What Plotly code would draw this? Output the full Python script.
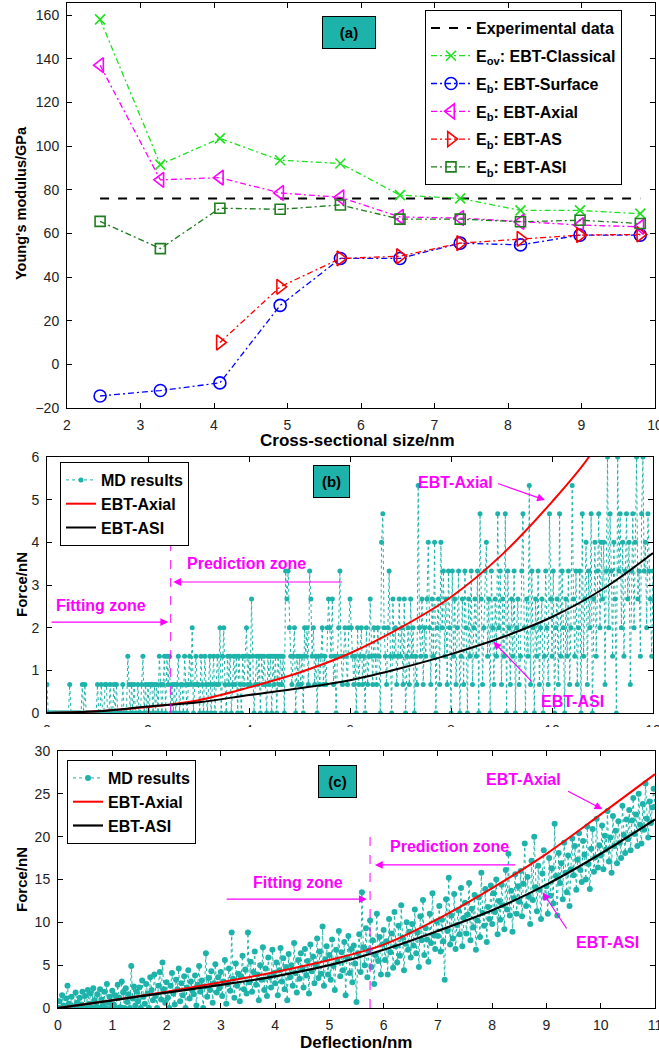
import numpy as np
import plotly.graph_objects as go

# ---------------- Panel (a): Young's modulus vs cross-sectional size ----------------
size_nm = [2.45, 3.27, 4.08, 4.9, 5.72, 6.53, 7.35, 8.17, 8.98, 9.8]
exp_modulus = 76
E_classical = [158, 91.5, 103.5, 93.5, 92, 77.5, 76, 70.5, 70.5, 69]
E_surface = [-14.5, -12, -8.5, 27, 48.5, 48.5, 55.5, 54.7, 59.2, 59.2]
E_axial = [137, 84.5, 85.5, 78.5, 76.5, 67.5, 67, 65.3, 63.8, 63]
E_as = [None, None, 10, 35.5, 48.5, 49.5, 55.5, 57.5, 59.2, 59.5]
E_asi = [65.5, 53, 71.5, 71, 73, 66.5, 66.5, 65.3, 66, 64.5]

# ---------------- Panel (b): force vs deflection (small beam) ----------------
curve_b_x = [0, 1, 2, 3, 4, 5, 6, 7, 8, 9, 10, 10.73, 11]
axial_b = [0, 0.04, 0.14, 0.3, 0.6, 0.95, 1.4, 2.0, 2.72, 3.7, 4.95, 6.0, 6.6]
asi_b_x = [0, 1, 2, 3, 4, 5, 6, 7, 8, 9, 10, 11, 12]
asi_b = [0, 0.04, 0.15, 0.25, 0.42, 0.58, 0.77, 1.05, 1.38, 1.77, 2.25, 2.9, 3.75]
# MD force levels (nN) are quantised; samples every 0.025 nm from 0 to 12 nm
md_b_force_levels = [0, 0.67, 1.33, 2.0, 2.67, 3.33, 4.0, 4.67, 5.33, 6.0]
MD_B_DX = 0.025
md_b_level = [
    1,0,0,0,0,0,0,0,0,0,0,0,0,0,0,0,0,0,1,0,
    0,0,0,0,0,0,0,0,1,0,1,0,0,0,0,0,0,0,0,0,
    1,0,0,1,0,0,1,1,0,0,1,0,0,1,0,1,0,0,0,0,
    1,0,0,0,2,1,0,1,0,1,0,0,1,0,0,1,2,0,1,0,
    1,0,1,1,0,1,0,1,0,2,1,0,1,2,0,2,1,2,0,1,
    0,1,0,1,2,0,1,1,0,2,1,0,1,2,1,3,0,1,2,1,
    1,0,2,1,0,2,1,0,1,2,0,1,2,0,1,2,1,3,0,2,
    3,1,0,2,1,2,0,1,2,1,2,0,2,1,0,2,1,2,3,1,
    2,1,4,2,0,1,2,1,2,0,2,1,2,1,0,2,1,2,0,2,
    1,2,0,2,1,2,1,2,0,5,4,5,3,2,1,2,3,0,2,1,
    2,1,2,0,3,2,3,1,5,4,2,3,1,2,0,2,1,2,3,1,
    2,1,3,4,3,2,4,1,2,0,2,3,5,2,1,2,3,2,1,3,
    4,3,2,1,2,0,3,1,2,3,1,2,0,3,1,2,4,2,1,3,
    2,1,3,2,0,6,7,3,2,1,3,5,2,0,4,2,3,1,2,4,
    2,3,1,4,0,2,3,1,4,2,3,0,2,1,8,3,2,4,1,3,
    2,4,6,3,1,4,2,6,0,3,4,1,6,3,5,2,4,1,5,3,
    0,5,2,4,1,3,5,0,2,4,1,5,3,0,4,2,5,1,3,4,
    2,5,0,7,4,1,3,5,6,2,4,0,5,3,1,4,2,7,3,5,
    1,4,2,7,0,5,3,1,4,2,5,0,3,4,1,2,5,7,3,0,
    4,2,8,1,5,3,0,4,2,5,1,3,4,0,2,5,3,1,7,4,
    2,5,0,3,4,1,7,2,5,3,0,4,2,5,1,3,8,4,2,5,
    1,3,5,0,7,2,4,6,1,5,3,7,0,4,6,2,5,7,3,6,
    4,6,1,5,9,3,7,5,2,6,4,0,9,5,7,3,6,2,5,7,
    4,6,1,5,7,3,6,9,4,5,2,7,9,5,6,3,7,5,4,2,
    5,
]

# ---------------- Panel (c): force vs deflection (large beam) ----------------
curve_c_x = [0, 1, 2, 3, 4, 5, 6, 7, 8, 9, 10, 11]
axial_c = [0, 0.9, 1.9, 3.0, 4.2, 5.6, 7.4, 10.4, 14.0, 18.0, 22.6, 27.3]
asi_c = [0, 0.9, 1.8, 2.7, 3.7, 5.0, 6.8, 9.0, 11.4, 14.4, 18.0, 22.0]
MD_C_DX = 0.025
md_c_force = [
    0, 0.8, 0, 1.5, 0.3, 0, 1.1, 2.6, 0.5, 0, 1.3, 0.2, 0, 1.8, 0.6, 0, 1.2, 0.4, 1.9, 0,
    1.4, 0, 2.1, 0.5, 1.7, 0, 2.3, 0.9, 0.2, 1.6, 0, 2.2, 1.0, 0.3, 1.9, 0, 2.8, 0.6, 1.3, 0,
    2.0, 0.4, 1.5, 0, 2.7, 1.2, 0.1, 3.1, 1.8, 0, 2.3, 0.7, 1.6, 0, 4.9, 1.1, 2.5, 0.3, 1.9, 0.8,
    2.4, 0, 3.2, 1.3, 0.5, 2.8, 1.7, 0, 3.6, 2.1, 0.9, 3.9, 1.4, 0, 2.6, 4.2, 1.0, 5.3, 2.2, 0.6,
    3.0, 1.2, 0, 2.6, 4.1, 1.7, 0.4, 3.3, 2.2, 4.6, 0.8, 2.9, 1.5, 3.7, 0, 2.4, 4.4, 1.1, 3.1, 2.0,
    1.6, 3.8, 0.3, 2.7, 4.9, 1.9, 3.2, 0, 2.5, 6.4, 1.3, 3.5, 2.1, 4.3, 0.6, 2.9, 5.1, 1.8, 3.6, 2.3,
    4.2, 1.4, 3.1, 5.6, 0.5, 2.8, 4.6, 2.0, 8.8, 3.4, 1.2, 5.2, 2.6, 4.0, 0.8, 3.7, 6.1, 2.2, 4.5, 1.7,
    8.8, 3.0, 5.4, 1.9, 4.2, 6.6, 2.7, 3.9, 0.9, 5.0, 3.3, 7.1, 2.1, 4.6, 1.4, 5.9, 3.6, 2.4, 6.8, 4.1,
    2.9, 5.3, 1.5, 4.4, 7.0, 3.1, 5.8, 2.2, 4.8, 0.9, 6.3, 3.6, 5.0, 2.6, 7.6, 4.1, 1.8, 5.6, 3.4, 6.4,
    4.7, 2.4, 6.9, 3.8, 5.5, 1.7, 7.4, 4.3, 6.0, 2.9, 5.1, 8.1, 3.5, 6.6, 4.0, 9.5, 2.6, 5.7, 7.2, 3.9,
    6.2, 3.3, 8.0, 4.9, 2.1, 6.8, 5.4, 9.0, 3.7, 6.5, 4.4, 7.7, 1.5, 5.9, 8.4, 4.1, 6.9, 3.0, 7.3, 5.2,
    0.7, 6.4, 8.6, 4.2, 13.5, 7.1, 5.0, 9.3, 3.6, 6.7, 10.2, 4.8, 7.9, 2.8, 6.2, 11.0, 5.5, 8.3, 3.9, 7.4,
    9.1, 5.6, 7.8, 3.9, 10.4, 6.5, 8.7, 4.7, 11.2, 7.2, 5.3, 9.6, 6.1, 12.0, 8.2, 4.4, 7.5, 10.0, 6.8, 8.9,
    5.9, 9.8, 7.3, 11.5, 6.4, 8.8, 4.8, 10.7, 7.9, 12.6, 6.2, 9.3, 8.0, 5.4, 11.0, 7.6, 13.4, 8.5, 6.9, 10.1,
    8.4, 11.9, 6.6, 10.3, 7.8, 3.3, 12.7, 9.0, 15.2, 7.4, 10.8, 8.1, 13.3, 6.9, 9.7, 11.4, 8.6, 14.0, 7.2, 10.5,
    12.3, 8.7, 10.9, 14.6, 7.9, 11.6, 9.4, 13.2, 6.8, 10.2, 12.9, 8.3, 15.8, 11.1, 9.6, 13.9, 7.7, 11.8, 10.4, 14.3,
    9.8, 13.4, 11.2, 15.0, 8.6, 12.5, 10.3, 14.4, 12.0, 9.2, 16.1, 11.5, 18.0, 10.8, 13.7, 8.9, 12.8, 15.6, 11.0, 14.2,
    12.4, 16.0, 10.7, 14.5, 19.2, 11.9, 15.3, 13.0, 9.8, 17.2, 12.6, 20.0, 14.1, 11.3, 16.6, 13.8, 10.4, 15.7, 18.4, 12.9,
    14.2, 11.0, 17.5, 13.1, 16.3, 12.2, 21.5, 15.4, 10.8, 18.1, 14.6, 16.9, 12.7, 19.3, 15.8, 13.5, 17.8, 11.9, 16.2, 19.8,
    15.5, 18.9, 13.8, 17.3, 20.4, 16.1, 14.7, 19.5, 17.9, 15.0, 21.2, 16.8, 13.9, 18.6, 20.9, 15.9, 17.6, 22.1, 16.4, 19.0,
    17.8, 21.3, 16.2, 20.1, 18.5, 23.0, 17.1, 19.9, 15.8, 22.4, 18.9, 20.7, 16.9, 21.8, 19.3, 17.5, 23.6, 20.2, 18.1, 22.0,
    19.7, 23.1, 18.4, 21.9, 24.5, 20.3, 22.6, 18.9, 25.0, 21.4, 19.2, 23.8, 20.8, 26.2, 22.1, 19.9, 24.1, 21.6, 23.4, 25.6,
    23.5,
]

# zone boundaries
fit_limit_b = 2.45
fit_limit_c = 5.75

# ---------------- styling ----------------
FONT = "Liberation Sans, Arial, sans-serif"
TEAL = "#1db3aa"
MAG = "#ff00ff"
W, H = 659, 1052


def px_x(p):
    return p / W


def px_y(p):
    return 1 - p / H


fig = go.Figure()

# ---- (a) ----
fig.add_trace(go.Scatter(
    x=[size_nm[0], size_nm[-1]], y=[exp_modulus, exp_modulus], mode="lines",
    line=dict(color="black", dash="dash", width=2),
    name="<b>Experimental data</b>", xaxis="x", yaxis="y", legend="legend", legendgroup="a0"))

series_a = [
    ("<b>E<sub>ov</sub>: EBT-Classical</b>", E_classical, "#1fe01f", "x-thin-open", 10),
    ("<b>E<sub>b</sub>: EBT-Surface</b>", E_surface, "#0000ff", "circle-open", 12),
    ("<b>E<sub>b</sub>: EBT-Axial</b>", E_axial, "#ff00ff", "triangle-left-open", 13),
    ("<b>E<sub>b</sub>: EBT-AS</b>", E_as, "#ff0000", "triangle-right-open", 13),
    ("<b>E<sub>b</sub>: EBT-ASI</b>", E_asi, "#1e7d1e", "square-open", 10),
]
for i, (name, vals, col, sym, sz) in enumerate(series_a):
    fig.add_trace(go.Scatter(
        x=size_nm, y=vals, mode="lines+markers", name=name,
        line=dict(color=col, width=1.3, dash="6px,3px,2px,3px"),
        marker=dict(symbol=sym, size=sz, color=col, line=dict(color=col, width=1.6)),
        xaxis="x", yaxis="y", legend="legend", legendgroup="a%d" % (i + 1)))

# ---- (b) ----
md_b_x = np.arange(len(md_b_level)) * MD_B_DX
md_b_y = [md_b_force_levels[k] for k in md_b_level]
fig.add_trace(go.Scatter(
    x=md_b_x, y=md_b_y, mode="lines+markers", name="<b>MD results</b>",
    line=dict(color=TEAL, width=1, dash="dot"),
    marker=dict(color=TEAL, size=5),
    xaxis="x2", yaxis="y2", legend="legend2"))
fig.add_trace(go.Scatter(
    x=curve_b_x, y=axial_b, mode="lines", name="<b>EBT-Axial</b>",
    line=dict(color="#ff0000", width=2, shape="spline"),
    xaxis="x2", yaxis="y2", legend="legend2"))
fig.add_trace(go.Scatter(
    x=asi_b_x, y=asi_b, mode="lines", name="<b>EBT-ASI</b>",
    line=dict(color="black", width=2, shape="spline"),
    xaxis="x2", yaxis="y2", legend="legend2"))

# ---- (c) ----
md_c_x = np.arange(len(md_c_force)) * MD_C_DX
fig.add_trace(go.Scatter(
    x=md_c_x, y=md_c_force, mode="lines+markers", name="<b>MD results</b>",
    line=dict(color=TEAL, width=1, dash="dot"),
    marker=dict(color=TEAL, size=6),
    xaxis="x3", yaxis="y3", legend="legend3"))
fig.add_trace(go.Scatter(
    x=curve_c_x, y=axial_c, mode="lines", name="<b>EBT-Axial</b>",
    line=dict(color="#ff0000", width=2, shape="spline"),
    xaxis="x3", yaxis="y3", legend="legend3"))
fig.add_trace(go.Scatter(
    x=curve_c_x, y=asi_c, mode="lines", name="<b>EBT-ASI</b>",
    line=dict(color="black", width=2.2, shape="spline"),
    xaxis="x3", yaxis="y3", legend="legend3"))

axis_common = dict(
    showline=True, linecolor="black", linewidth=1, mirror="ticks",
    ticks="inside", ticklen=5, tickcolor="black", showgrid=False, zeroline=False,
    tickfont=dict(family=FONT, size=14, color="#222"), ticklabelstandoff=4,
    ticklabeloverflow="allow")

legend_common = dict(
    bgcolor="white", bordercolor="black", borderwidth=1,
    xanchor="left", yanchor="top", font=dict(family=FONT, size=16, color="black"),
    tracegroupgap=0)

fig.update_layout(
    width=W, height=H, margin=dict(l=0, r=0, t=0, b=0, autoexpand=False),
    paper_bgcolor="white", plot_bgcolor="white",
    font=dict(family=FONT, color="black"),
    xaxis=dict(domain=[px_x(67), px_x(655)], range=[2, 10], dtick=1, anchor="y", **axis_common),
    yaxis=dict(domain=[px_y(408), px_y(3)], range=[-20, 165.5], tickvals=list(range(-20, 161, 20)),
               anchor="x", **axis_common),
    xaxis2=dict(domain=[px_x(47), px_x(653)], range=[0, 12], dtick=2, anchor="y2", **axis_common),
    yaxis2=dict(domain=[px_y(713), px_y(457)], range=[0, 6], dtick=1, anchor="x2", **axis_common),
    xaxis3=dict(domain=[px_x(58), px_x(655)], range=[0, 11], dtick=1, anchor="y3", **axis_common),
    yaxis3=dict(domain=[px_y(1008), px_y(751)], range=[0, 30], dtick=5, anchor="x3", **axis_common),
    legend=dict(x=px_x(425), y=px_y(10), font=dict(family=FONT, size=16, color="black"),
                bgcolor="white", bordercolor="black", borderwidth=1,
                xanchor="left", yanchor="top", itemwidth=40, tracegroupgap=4),
    legend2=dict(x=px_x(60), y=px_y(462), **legend_common),
    legend3=dict(x=px_x(67), y=px_y(760), **legend_common),
)

# zone dividers
fig.add_shape(type="line", xref="x2", yref="y2", x0=fit_limit_b, x1=fit_limit_b, y0=0, y1=4,
              line=dict(color=MAG, width=1, dash="dash"))
fig.add_shape(type="line", xref="x3", yref="y3", x0=fit_limit_c, x1=fit_limit_c, y0=0, y1=20.4,
              line=dict(color=MAG, width=1, dash="dash"))
# (b) tick labels partly covered by panel (c)
fig.add_shape(type="rect", xref="paper", yref="paper", x0=0, x1=1, y0=px_y(743), y1=px_y(727),
              fillcolor="white", line=dict(width=0), layer="above")

ann = []


def title(text, x, y, angle=0, size=16):
    ann.append(dict(text="<b>%s</b>" % text, x=px_x(x), y=px_y(y), xref="paper", yref="paper",
                    showarrow=False, textangle=angle, font=dict(family=FONT, size=size, color="black"),
                    xanchor="center", yanchor="middle"))


title("Young's modulus/GPa", 21, 203, -90, 14.5)
title("Cross-sectional size/nm", 358, 440, 0, 17)
title("Force/nN", 21, 585, -90, 15)
title("Force/nN", 21, 880, -90, 15)
title("Deflection/nm", 356, 1042, 0, 17)


def box(text, x, y, w, h):
    ann.append(dict(text="<b>%s</b>" % text, x=px_x(x), y=px_y(y), xref="paper", yref="paper",
                    showarrow=False, bgcolor=TEAL, bordercolor="black", borderwidth=1,
                    width=w, height=h, font=dict(family=FONT, size=15, color="black"),
                    xanchor="center", yanchor="middle"))


box("(a)", 349, 33, 50, 29)
box("(b)", 331, 481, 33, 29)
box("(c)", 337, 781, 35, 29)


def label(text, x, y, ax):
    ann.append(dict(text="<b>%s</b>" % text, x=x, y=y, xref="x" + ax, yref="y" + ax,
                    showarrow=False, font=dict(family=FONT, size=16, color=MAG),
                    xanchor="center", yanchor="middle"))


def arrow(x0, y0, x1, y1, ax):
    ann.append(dict(text="", x=x1, y=y1, ax=x0, ay=y0, xref="x" + ax, yref="y" + ax,
                    axref="x" + ax, ayref="y" + ax, showarrow=True, arrowhead=2,
                    arrowsize=1.3, arrowwidth=1.2, arrowcolor=MAG, standoff=0, startstandoff=0))


# (b) annotations
label("Prediction zone", 3.95, 3.5, "2")
arrow(5.87, 3.07, 2.5, 3.07, "2")
label("Fitting zone", 1.07, 2.53, "2")
arrow(0.06, 2.13, 2.4, 2.13, "2")
label("EBT-Axial", 8.08, 5.4, "2")
arrow(8.9, 5.39, 9.86, 4.99, "2")
label("EBT-ASI", 10.4, 0.26, "2")
arrow(9.63, 0.70, 8.84, 1.67, "2")

# (c) annotations
label("EBT-Axial", 8.57, 26.7, "3")
arrow(9.37, 25.4, 10.03, 23.2, "3")
label("Prediction zone", 7.21, 18.8, "3")
arrow(8.45, 16.7, 5.84, 16.7, "3")
label("Fitting zone", 4.42, 14.7, "3")
arrow(3.08, 12.7, 5.69, 12.7, "3")
label("EBT-ASI", 10.12, 7.7, "3")
arrow(9.39, 9.1, 8.93, 13.5, "3")

fig.update_layout(annotations=ann)

fig.write_html("out.html", config={"displayModeBar": False},
               post_script="document.body.style.margin='0';")
